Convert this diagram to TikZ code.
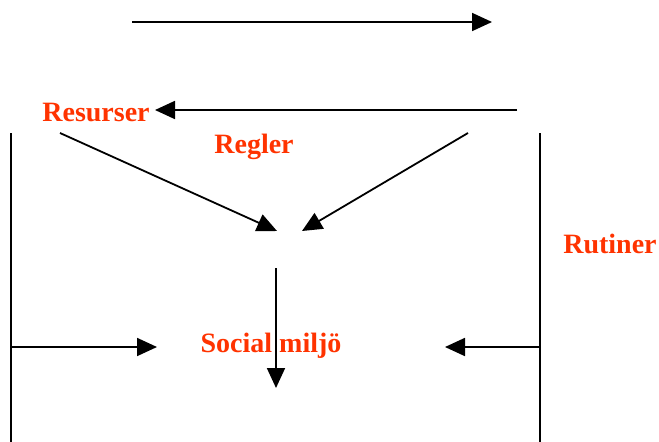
\documentclass[tikz,border=0pt]{standalone}
\usepackage{fontspec}
\setmainfont{Liberation Serif}
\usetikzlibrary{arrows.meta}
\definecolor{labelred}{RGB}{255,51,0}
\tikzset{
  flow/.style={line width=1.8pt, -{Triangle[length=20pt,width=18pt]}},
  wall/.style={line width=1.8pt},
  lbl/.style={text=labelred, font=\bfseries\fontsize{28}{32}\selectfont, inner sep=0pt, anchor=base}
}
\begin{document}
\begin{tikzpicture}[x=1pt,y=-1pt]
  \useasboundingbox (0,0) rectangle (659,442);
  % labels, placed by their baselines
  \node[lbl] (res) at (96,121) {Resurser};
  \node[lbl] (reg) at (254,153) {Regler};
  \node[lbl] (rut) at (610,253) {Rutiner};
  \node[lbl] (soc) at (271,352) {Social miljö};
  % anchor points of the arrows
  \coordinate (t1) at (132,22);   \coordinate (t2) at (492,22);
  \coordinate (r1) at (517,110);  \coordinate (r2) at (155,110);
  \coordinate (lwt) at (11,133);  \coordinate (lwb) at (11,442);
  \coordinate (rwt) at (540,133); \coordinate (rwb) at (540,442);
  \coordinate (dl1) at (60,133);  \coordinate (dl2) at (277,231);
  \coordinate (dr1) at (468,133); \coordinate (dr2) at (302,231);
  \coordinate (v1) at (276,268);  \coordinate (v2) at (276,388);
  \coordinate (hl2) at (157,347); \coordinate (hr2) at (445,347);
  \coordinate (hl1) at (11,347);  \coordinate (hr1) at (540,347);
  % arrows
  \draw[flow] (t1) -- (t2);
  \draw[flow] (r1) -- (r2);
  \draw[flow] (dl1) -- (dl2);
  \draw[flow] (dr1) -- (dr2);
  \draw[flow] (v1) -- (v2);
  \draw[flow] (hl1) -- (hl2);
  \draw[flow] (hr1) -- (hr2);
  % side walls
  \draw[wall] (lwt) -- (lwb);
  \draw[wall] (rwt) -- (rwb);
\end{tikzpicture}
\end{document}
